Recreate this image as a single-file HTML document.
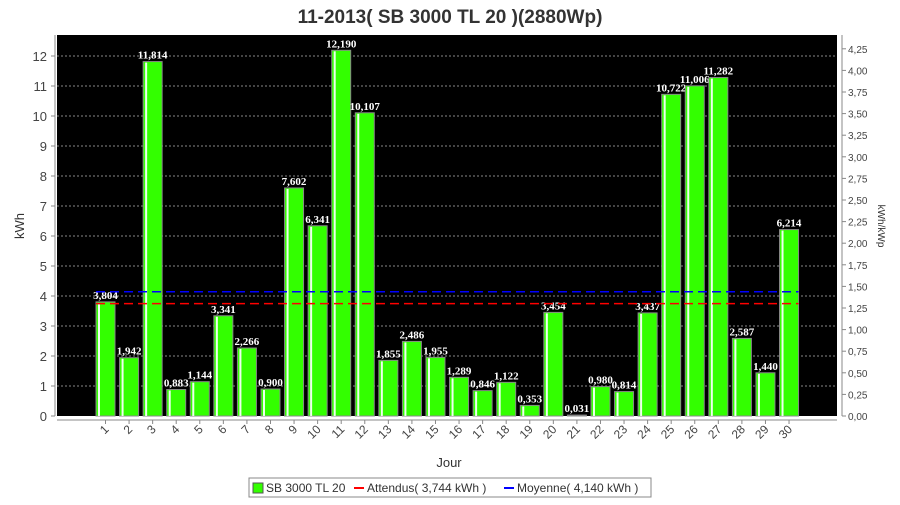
<!DOCTYPE html>
<html><head><meta charset="utf-8"><style>
body{margin:0;background:#fff;font-family:"Liberation Sans",sans-serif}
</style></head><body>
<svg id="c" width="900" height="500" xmlns="http://www.w3.org/2000/svg">
<text x="450" y="23" text-anchor="middle" font-size="19" font-weight="bold" fill="#333">11-2013( SB 3000 TL 20 )(2880Wp)</text>
<rect x="57" y="35" width="780" height="381" fill="#000"/>
<g id="grid"></g><g id="bars"></g><g id="axes"></g>
<text x="449" y="467" text-anchor="middle" font-size="13" fill="#333">Jour</text>
<text transform="translate(24,226) rotate(-90)" text-anchor="middle" font-size="13" fill="#333">kWh</text>
<text transform="translate(878,226) rotate(90)" text-anchor="middle" font-size="10" fill="#333">kWh/kWp</text>
<g>
<rect x="249" y="478" width="402" height="19" fill="#fff" stroke="#888"/>
<g><rect x="253" y="483" width="10" height="10" fill="#33ff00" stroke="#555"/><text x="266" y="492" font-size="12" fill="#333">SB 3000 TL 20</text></g>
<g><line x1="354" y1="488" x2="364" y2="488" stroke="#f00" stroke-width="2"/><text x="367" y="492" font-size="12" fill="#333">Attendus( 3,744 kWh )</text></g>
<g><line x1="504" y1="488" x2="514" y2="488" stroke="#00f" stroke-width="2"/><text x="517" y="492" font-size="12" fill="#333">Moyenne( 4,140 kWh )</text></g>
</g>
</svg>
<script>
const days=[1,2,3,4,5,6,7,8,9,10,11,12,13,14,15,16,17,18,19,20,21,22,23,24,25,26,27,28,29,30];
const values=[3.804,1.942,11.814,0.883,1.144,3.341,2.266,0.900,7.602,6.341,12.190,10.107,1.855,2.486,1.955,1.289,0.846,1.122,0.353,3.454,0.031,0.980,0.814,3.437,10.722,11.006,11.282,2.587,1.440,6.214];
const yTicks=[0,1,2,3,4,5,6,7,8,9,10,11,12];
const y2Ticks=[0,0.25,0.5,0.75,1,1.25,1.5,1.75,2,2.25,2.5,2.75,3,3.25,3.5,3.75,4,4.25];
const expected=[3.744];
const average=[4.140];
const peak=[2.88];
const NS="http://www.w3.org/2000/svg";
const y=v=>416-v*30;
const x=d=>105.5+(d-1)*23.57;
function mk(p,t,a){const e=document.createElementNS(NS,t);for(const k in a)e.setAttribute(k,a[k]);p.appendChild(e);return e;}
const grid=document.getElementById('grid'),bars=document.getElementById('bars'),axes=document.getElementById('axes');
yTicks.forEach(v=>{
 if(v>0){const g=mk(grid,'line',{x1:57,x2:837,y1:y(v),y2:y(v),stroke:'#888','stroke-dasharray':'2,2','stroke-width':1});
 
 }
 const t=mk(axes,'text',{x:47,y:y(v)+5,'text-anchor':'end','font-size':13,fill:'#444'});t.textContent=v;
 
 
 mk(axes,'line',{x1:51,x2:55,y1:y(v),y2:y(v),stroke:'#888'});
});
mk(axes,'line',{x1:55,x2:55,y1:35,y2:416,stroke:'#888'});
mk(axes,'line',{x1:842,x2:842,y1:35,y2:416,stroke:'#888'});
mk(axes,'line',{x1:57,x2:837,y1:420,y2:420,stroke:'#888'});
y2Ticks.forEach(v=>{
 const yy=y(v*peak[0]);
 mk(axes,'line',{x1:842,x2:846,y1:yy,y2:yy,stroke:'#888'});
 const t=mk(axes,'text',{x:848,y:yy+4,'font-size':10,fill:'#444'});t.textContent=v.toFixed(2).replace('.',',');
 
 
});
days.forEach((d,i)=>{
 const v=values[i],cx=x(d);
 const r=mk(bars,'rect',{x:cx-9.5,y:y(v),width:19,height:v*30,fill:'#33ff00',stroke:'#888','stroke-width':1});
 
 
 mk(bars,'rect',{x:cx-7.5,y:y(v)+1,width:2,height:Math.max(0,v*30-1),fill:'#eeffee'});
 const t=mk(bars,'text',{x:cx,y:y(v)-3,'text-anchor':'middle','font-size':11,'font-weight':'bold','font-family':'Liberation Serif, serif',fill:'#fff'});
 t.textContent=v.toFixed(3).replace('.',',');
 
 
 mk(axes,'line',{x1:cx,x2:cx,y1:420,y2:424,stroke:'#888'});
 const l=mk(axes,'text',{transform:`translate(${cx+4},${430}) rotate(-45)`,'text-anchor':'end','font-size':12,fill:'#444'});
 l.textContent=d;
 
 
});
const e=mk(bars,'line',{x1:x(1)-9.5,x2:x(30)+9.5,y1:y(expected[0]),y2:y(expected[0]),stroke:'#f00','stroke-width':1.5,'stroke-dasharray':'9,5'});


const a=mk(bars,'line',{x1:x(1)-9.5,x2:x(30)+9.5,y1:y(average[0]),y2:y(average[0]),stroke:'#00f','stroke-width':1.5,'stroke-dasharray':'9,5'});


</script>
</body></html>
